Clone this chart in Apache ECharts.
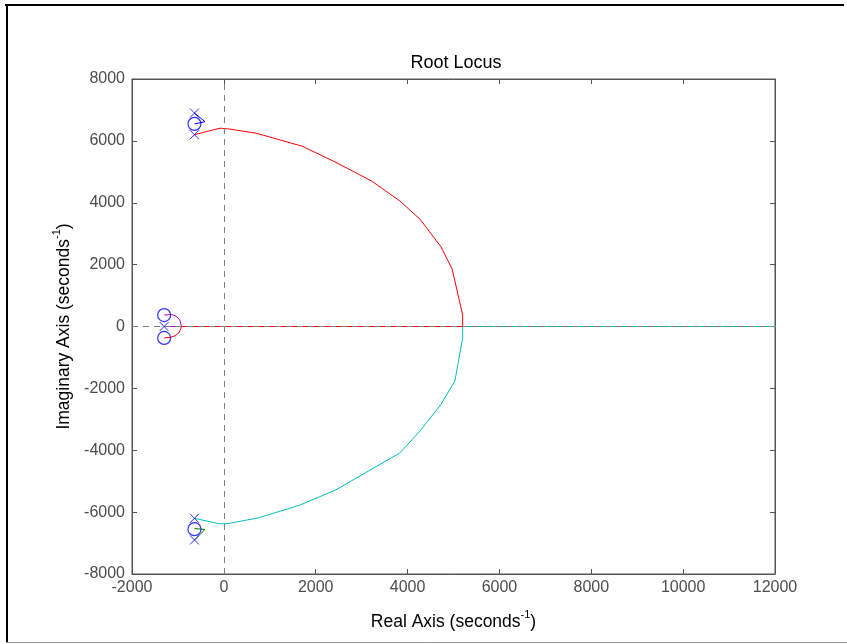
<!DOCTYPE html>
<html>
<head>
<meta charset="utf-8">
<script src="https://cdn.jsdelivr.net/npm/echarts@6/dist/echarts.min.js"></script>
<style>html,body{margin:0;padding:0;background:#fff;}#c{width:847px;height:644px;}</style>
</head>
<body>
<div id="c"></div>
<script>
// ---- data ----
const xTicks = [-2000, 0, 2000, 4000, 6000, 8000, 10000, 12000];
const yTicks = [-8000, -6000, -4000, -2000, 0, 2000, 4000, 6000, 8000];
const poles = [[-640, 6900], [-640, 6200], [-1300, 0], [-640, -6200], [-640, -6900]];
const zeros = [[-640, 6550], [-1300, 370], [-1300, -370], [-640, -6550]];
const blueBranch = [[-640, 6900], [-410, 6620], [-640, 6550]];
const greenBranch = [[-640, -6900], [-410, -6560], [-640, -6530]];
const redBranch = [[-640, 6200], [-85, 6410], [85, 6390], [700, 6250], [1700, 5830], [2420, 5320], [3220, 4700], [3830, 4060], [4270, 3470], [4730, 2570], [4970, 1860], [5200, 370], [5200, 0], [-920, 0], [-970, -190], [-1065, -300], [-1160, -350], [-1300, -370]];
const cyanBranch = [[-640, -6200], [-85, -6380], [85, -6370], [740, -6190], [1660, -5770], [2440, -5280], [3220, -4610], [3830, -4090], [4270, -3380], [4730, -2510], [5030, -1760], [5200, -370], [5200, 0], [12000, 0], [12500, 0]];
const magentaBranch = [[-1300, 0], [-920, 0], [-960, 210], [-1045, 340], [-1140, 390], [-1300, 370]];

const chart = echarts.init(document.getElementById('c'), null, {renderer: 'canvas'});
const font = 'Liberation Sans, Arial, Helvetica, sans-serif';
const tickColor = '#4d4d4d';
const axisCol = '#555';

function lineSeries(name, data, color) {
  return {
    name, type: 'line', data, showSymbol: false, symbol: 'none', clip: true,
    lineStyle: {color, width: 1}, itemStyle: {color}, animation: false, silent: true, z: 3
  };
}
const crossPath = 'path://M0,0L10,10M10,0L0,10';
const nameRich = {
  n: {fontSize: 17.5, color: '#000', fontFamily: font, lineHeight: 22, verticalAlign: 'bottom'},
  s: {fontSize: 11, color: '#000', fontFamily: font, lineHeight: 22, verticalAlign: 'top'}
};

const option = {
  animation: false,
  textStyle: {fontFamily: font},
  title: {
    text: 'Root Locus', left: 451, top: 49, textAlign: 'center',
    textStyle: {fontSize: 18, fontWeight: 'normal', color: '#000', fontFamily: font}
  },
  graphic: [
    {type: 'line', shape: {x1: 5, y1: 5, x2: 844, y2: 5}, style: {stroke: '#000', lineWidth: 2}, silent: true},
    {type: 'line', shape: {x1: 7, y1: 5, x2: 7, y2: 642}, style: {stroke: '#000', lineWidth: 2}, silent: true},
    {type: 'line', shape: {x1: 6, y1: 642.5, x2: 847, y2: 642.5}, style: {stroke: '#999', lineWidth: 1}, silent: true}
  ],
  grid: {left: 132, right: 72, top: 79, bottom: 70, show: true, borderColor: axisCol, borderWidth: 1, backgroundColor: '#fff'},
  xAxis: [{
    type: 'value', min: -2000, max: 12000, interval: 2000, position: 'bottom',
    axisLine: {show: true, onZero: false, lineStyle: {color: axisCol}},
    axisTick: {show: true, inside: true, length: 5, lineStyle: {color: axisCol}},
    splitLine: {show: false},
    axisLabel: {color: tickColor, fontSize: 16, margin: 6, fontFamily: font,
      customValues: xTicks, formatter: v => String(v)},
    name: '{n|Real Axis (seconds}{s|-1}{n|)}', nameLocation: 'middle', nameGap: 35,
    nameTextStyle: {rich: nameRich}
  }, {
    type: 'value', min: -2000, max: 12000, interval: 2000, position: 'top',
    axisLine: {show: true, onZero: false, lineStyle: {color: axisCol}},
    axisTick: {show: true, inside: true, length: 5, lineStyle: {color: axisCol}},
    axisLabel: {show: false}, splitLine: {show: false}
  }],
  yAxis: [{
    type: 'value', min: -8000, max: 8000, interval: 2000, position: 'left',
    axisLine: {show: true, onZero: false, lineStyle: {color: axisCol}},
    axisTick: {show: true, inside: true, length: 5, lineStyle: {color: axisCol}},
    splitLine: {show: false},
    axisLabel: {color: tickColor, fontSize: 16, margin: 7, fontFamily: font,
      customValues: yTicks, formatter: v => String(v)},
    name: '{n|Imaginary Axis (seconds}{s|-1}{n|)}', nameLocation: 'middle', nameGap: 56, nameRotate: 90,
    nameTextStyle: {rich: nameRich}
  }, {
    type: 'value', min: -8000, max: 8000, interval: 2000, position: 'right',
    axisLine: {show: true, onZero: false, lineStyle: {color: axisCol}},
    axisTick: {show: true, inside: true, length: 5, lineStyle: {color: axisCol}},
    axisLabel: {show: false}, splitLine: {show: false}
  }],
  series: [
    lineSeries('red', redBranch, '#ff0000'),
    lineSeries('cyan', cyanBranch, '#00bfbf'),
    lineSeries('magenta', magentaBranch, '#bf00bf'),
    lineSeries('blue', blueBranch, '#0000ff'),
    lineSeries('green', greenBranch, '#008000'),
    {
      name: 'axes0', type: 'line', data: [], silent: true, z: 4,
      markLine: {
        silent: true, symbol: ['none', 'none'], animation: false,
        label: {show: false},
        lineStyle: {color: '#808080', type: [6, 5], width: 1},
        data: [{xAxis: 0}, {yAxis: 0}]
      }
    },
    {
      name: 'poles', type: 'scatter', data: poles, symbol: crossPath, symbolSize: 9, z: 5,
      itemStyle: {color: 'none', borderColor: '#0000ff', borderWidth: 1}, silent: true
    },
    {
      name: 'zeros', type: 'scatter', data: zeros, symbol: 'circle', symbolSize: 13, z: 5,
      itemStyle: {color: 'none', borderColor: '#0000ff', borderWidth: 1.2}, silent: true
    }
  ]
};
chart.setOption(option);
</script>
</body>
</html>
